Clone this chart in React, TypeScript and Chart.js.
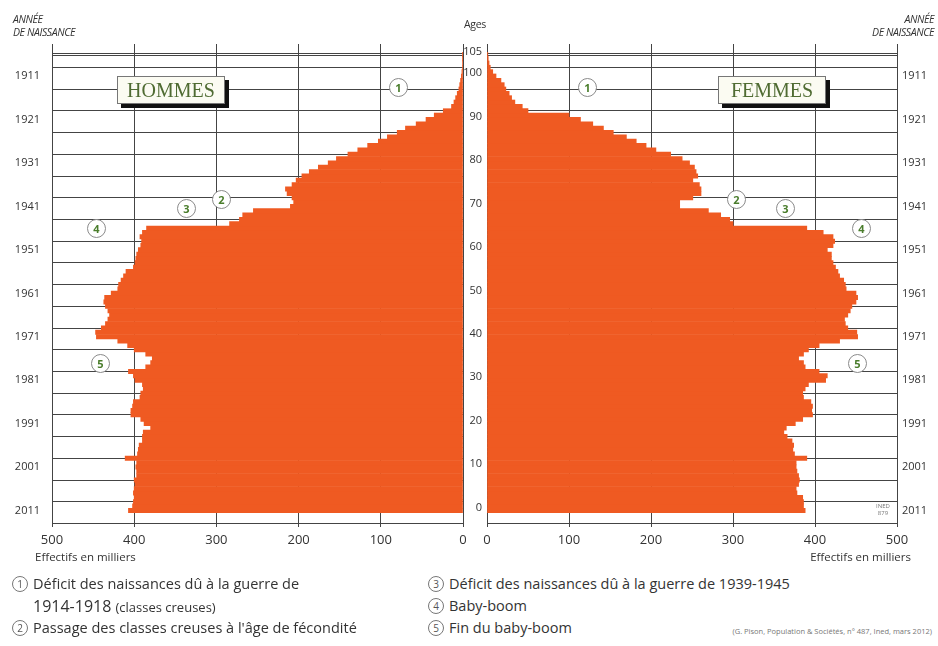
import React, { useEffect, useRef } from "react";
import { Chart, registerables } from "chart.js";

Chart.register(...registerables);

// Ages 0..105 (index = age in completed years, population on 1 Jan 2012)
const AGES: number[] = Array.from({ length: 106 }, (_, i) => i);

// Effectifs en milliers — hommes
const HOMMES: number[] = [
  407, 402, 401, 400, 401, 400, 399, 400, 397, 397, // 0-9
  398, 397, 411, 396, 395, 394, 390, 390, 389, 380, // 10-19
  388, 392, 404, 404, 402, 401, 393, 392, 389, 390, // 20-29
  399, 401, 407, 386, 380, 378, 386, 400, 408, 420, // 30-39
  446, 447, 440, 435, 432, 430, 432, 435, 437, 436, // 40-49
  428, 420, 419, 416, 413, 410, 401, 399, 398, 397, // 50-59
  395, 392, 391, 393, 390, 385, 284, 272, 268, 255, // 60-69
  210, 206, 208, 214, 216, 208, 203, 196, 187, 176, // 70-79
  164, 154, 140, 128, 116, 103, 92, 80, 70, 57,     // 80-89
  45, 35, 24, 14, 11, 9, 7, 5, 4, 3,                // 90-99
  2, 1.3, 0.8, 0.5, 0.3, 0.2,                        // 100-105
];

// Effectifs en milliers — femmes
const FEMMES: number[] = [
  388, 386, 386, 385, 378, 377, 380, 381, 380, 378, // 0-9
  377, 377, 390, 375, 373, 374, 372, 366, 362, 365, // 10-19
  376, 385, 397, 396, 397, 395, 386, 385, 388, 392, // 20-29
  413, 415, 405, 388, 386, 380, 386, 392, 405, 430, // 30-39
  452, 451, 440, 437, 436, 440, 443, 445, 450, 452, // 40-49
  450, 438, 437, 435, 430, 428, 425, 422, 420, 420, // 50-59
  415, 422, 424, 422, 410, 390, 300, 296, 285, 270, // 60-69
  235, 235, 251, 261, 261, 259, 251, 257, 255, 253, // 70-79
  247, 238, 224, 206, 194, 182, 170, 154, 142, 129, // 80-89
  114, 100, 50, 43, 34, 30, 27, 23, 21, 17,         // 90-99
  11, 7, 4, 2.5, 1.5, 1,                             // 100-105
];

const VALUE_TICKS: number[] = [0, 100, 200, 300, 400, 500];
const AGE_GRID: number[] = [0, 5, 10, 15, 20, 25, 30, 35, 40, 45, 50, 55, 60, 65, 70, 75, 80, 85, 90, 95, 100, 105, 105.5];
const AGE_LABELS: number[] = [0, 10, 20, 30, 40, 50, 60, 70, 80, 90, 100, 105];
const YEAR_LABEL_AGES: number[] = [0, 10, 20, 30, 40, 50, 60, 70, 80, 90, 100];
const CENSUS_YEAR = 2011;

const ORANGE = "#EF5A22";
const GRID = "#444444";
const TEXT = "#333333";
const TICK_FONT = { family: "'Open Sans', 'DejaVu Sans', sans-serif", size: 11 };
const X_FONT = { family: "'Open Sans', 'DejaVu Sans', sans-serif", size: 13 };

const AGE_MIN = 0;
const AGE_MAX = 105.5;

function ageGridTicks(scale: any) {
  scale.ticks = AGE_GRID.map((v) => ({ value: v }));
}

function yearLabel(v: number): string {
  return YEAR_LABEL_AGES.includes(v) ? String(CENSUS_YEAR - v) : "";
}

function barData(values: number[]) {
  return AGES.map((a) => ({ x: values[a], y: a + 0.5 }));
}

function xScale(reverse: boolean) {
  return {
    type: "linear" as const,
    position: "bottom" as const,
    reverse,
    min: 0,
    max: 500,
    afterBuildTicks: (scale: any) => {
      scale.ticks = VALUE_TICKS.map((v) => ({ value: v }));
    },
    afterFit: (scale: any) => {
      scale.height = 37;
    },
    ticks: {
      color: TEXT,
      font: X_FONT,
      padding: 5,
      autoSkip: false,
      maxRotation: 0,
      callback: (v: any) => String(v),
    },
    grid: { color: GRID, lineWidth: 1, drawTicks: true, tickLength: 4, tickColor: GRID },
    border: { display: true, color: GRID, width: 1 },
  };
}

function datasetFor(label: string, values: number[]) {
  return {
    label,
    data: barData(values) as any,
    backgroundColor: ORANGE,
    borderWidth: 0,
    barThickness: "flex" as const,
    barPercentage: 1,
    categoryPercentage: 1,
  };
}

function LeftPyramid() {
  const ref = useRef<HTMLCanvasElement>(null);
  useEffect(() => {
    if (!ref.current) return;
    const chart = new Chart(ref.current, {
      type: "bar",
      data: { datasets: [datasetFor("Hommes", HOMMES)] },
      options: {
        indexAxis: "y",
        responsive: false,
        animation: false,
        layout: { padding: { top: 44, right: 7, left: 0, bottom: 0 } },
        plugins: { legend: { display: false }, tooltip: { enabled: false } },
        scales: {
          x: xScale(true),
          y: {
            type: "linear",
            position: "left",
            min: AGE_MIN,
            max: AGE_MAX,
            afterBuildTicks: ageGridTicks,
            afterFit: (scale: any) => {
              scale.width = 52;
            },
            ticks: {
              color: TEXT,
              font: TICK_FONT,
              padding: 12,
              autoSkip: false,
              labelOffset: -2,
              callback: (v: any) => yearLabel(Number(v)),
            },
            grid: { color: GRID, lineWidth: 1, drawTicks: false },
            border: { display: true, color: GRID, width: 1 },
          },
        },
      },
    });
    return () => chart.destroy();
  }, []);
  return <canvas ref={ref} width={470} height={560} style={{ position: "absolute", left: 0, top: 0 }} />;
}

function RightPyramid() {
  const ref = useRef<HTMLCanvasElement>(null);
  useEffect(() => {
    if (!ref.current) return;
    const chart = new Chart(ref.current, {
      type: "bar",
      data: { datasets: [datasetFor("Femmes", FEMMES)] },
      options: {
        indexAxis: "y",
        responsive: false,
        animation: false,
        layout: { padding: { top: 44, right: 0, left: 0, bottom: 0 } },
        plugins: { legend: { display: false }, tooltip: { enabled: false } },
        scales: {
          x: xScale(false),
          y: {
            type: "linear",
            position: "left",
            min: AGE_MIN,
            max: AGE_MAX,
            afterBuildTicks: ageGridTicks,
            afterFit: (scale: any) => {
              scale.width = 24;
            },
            ticks: {
              color: TEXT,
              font: TICK_FONT,
              padding: 5,
              autoSkip: false,
              labelOffset: -5,
              callback: (v: any) => (AGE_LABELS.includes(Number(v)) ? String(v) : ""),
            },
            grid: { color: GRID, lineWidth: 1, drawTicks: false },
            border: { display: true, color: GRID, width: 1 },
          },
          y2: {
            type: "linear",
            position: "right",
            min: AGE_MIN,
            max: AGE_MAX,
            afterBuildTicks: ageGridTicks,
            afterFit: (scale: any) => {
              scale.width = 41;
            },
            ticks: {
              color: TEXT,
              font: TICK_FONT,
              padding: 5,
              autoSkip: false,
              labelOffset: -2,
              callback: (v: any) => yearLabel(Number(v)),
            },
            grid: { display: false, drawTicks: false },
            border: { display: true, color: GRID, width: 1 },
          },
        },
      },
    });
    return () => chart.destroy();
  }, []);
  return <canvas ref={ref} width={475} height={560} style={{ position: "absolute", left: 463, top: 0 }} />;
}

const SANS = "'Open Sans', 'DejaVu Sans', sans-serif";

function Marker({ n, x, y }: { n: number; x: number; y: number }) {
  return (
    <div
      style={{
        position: "absolute",
        left: x - 10,
        top: y - 10,
        width: 17,
        height: 17,
        borderRadius: "50%",
        border: "1.5px solid #8a8a8a",
        background: "#fff",
        color: "#4a7d2c",
        fontFamily: SANS,
        fontWeight: 700,
        fontSize: 11,
        lineHeight: "17px",
        textAlign: "center",
      }}
    >
      {n}
    </div>
  );
}

function SexBox({ label, x }: { label: string; x: number }) {
  return (
    <div
      style={{
        position: "absolute",
        left: x,
        top: 76,
        width: 106,
        height: 26,
        border: "1px solid #777",
        background: "#fbfbf2",
        boxShadow: "4px 4px 0 #111",
        color: "#4f6b32",
        fontFamily: "'Liberation Serif', 'DejaVu Serif', serif",
        fontSize: 20,
        lineHeight: "26px",
        textAlign: "center",
      }}
    >
      {label}
    </div>
  );
}

function LegendCircle({ n }: { n: number }) {
  return (
    <span
      style={{
        display: "inline-block",
        width: 14,
        height: 14,
        borderRadius: "50%",
        border: "1px solid #777",
        color: "#555",
        fontSize: 10,
        lineHeight: "14px",
        textAlign: "center",
        marginRight: 5,
        verticalAlign: "1px",
      }}
    >
      {n}
    </span>
  );
}

const headerStyle: React.CSSProperties = {
  position: "absolute",
  fontFamily: SANS,
  fontStyle: "italic",
  fontSize: 10.5,
  lineHeight: "13px",
  color: "#333",
  letterSpacing: -0.4,
};

const legendStyle: React.CSSProperties = {
  position: "absolute",
  fontFamily: SANS,
  fontSize: 14.5,
  color: "#333",
  whiteSpace: "nowrap",
  lineHeight: "20px",
};

export default function App() {
  return (
    <div
      style={{
        position: "absolute",
        left: 0,
        top: 0,
        width: 938,
        height: 646,
        background: "#fff",
        overflow: "hidden",
      }}
    >
      <LeftPyramid />
      <RightPyramid />

      <div style={{ ...headerStyle, left: 13, top: 13 }}>
        ANNÉE
        <br />
        DE NAISSANCE
      </div>
      <div style={{ ...headerStyle, right: 4, top: 13, textAlign: "right" }}>
        ANNÉE
        <br />
        DE NAISSANCE
      </div>
      <div
        style={{
          position: "absolute",
          left: 463,
          top: 17,
          width: 24,
          textAlign: "center",
          fontFamily: SANS,
          fontSize: 10.5,
          color: "#333",
          letterSpacing: -0.3,
        }}
      >
        Ages
      </div>

      <SexBox label="HOMMES" x={117} />
      <SexBox label="FEMMES" x={718} />

      <Marker n={1} x={399} y={88} />
      <Marker n={2} x={222} y={200} />
      <Marker n={3} x={187} y={209} />
      <Marker n={4} x={97} y={229} />
      <Marker n={5} x={101} y={364} />
      <Marker n={1} x={588} y={88} />
      <Marker n={2} x={737} y={200} />
      <Marker n={3} x={786} y={209} />
      <Marker n={4} x={862} y={229} />
      <Marker n={5} x={858} y={364} />

      <div
        style={{
          position: "absolute",
          left: 876,
          top: 503,
          fontFamily: SANS,
          fontSize: 6,
          lineHeight: "7px",
          color: "#777",
          textAlign: "center",
        }}
      >
        INED
        <br />
        879
      </div>

      <div style={{ position: "absolute", left: 35, top: 549, fontFamily: SANS, fontSize: 11.5, color: "#333" }}>
        Effectifs en milliers
      </div>
      <div style={{ position: "absolute", right: 27, top: 549, fontFamily: SANS, fontSize: 11.5, color: "#333" }}>
        Effectifs en milliers
      </div>

      <div style={{ ...legendStyle, left: 12, top: 574 }}>
        <LegendCircle n={1} />
        Déficit des naissances dû à la guerre de
      </div>
      <div style={{ ...legendStyle, left: 33, top: 596, fontSize: 16 }}>
        1914-1918 <span style={{ fontSize: 13 }}>(classes creuses)</span>
      </div>
      <div style={{ ...legendStyle, left: 12, top: 618 }}>
        <LegendCircle n={2} />
        Passage des classes creuses à l'âge de fécondité
      </div>
      <div style={{ ...legendStyle, left: 428, top: 574 }}>
        <LegendCircle n={3} />
        Déficit des naissances dû à la guerre de 1939-1945
      </div>
      <div style={{ ...legendStyle, left: 428, top: 596 }}>
        <LegendCircle n={4} />
        Baby-boom
      </div>
      <div style={{ ...legendStyle, left: 428, top: 618 }}>
        <LegendCircle n={5} />
        Fin du baby-boom
      </div>
      <div
        style={{
          position: "absolute",
          right: 6,
          top: 626,
          fontFamily: SANS,
          fontSize: 7.5,
          color: "#777",
          whiteSpace: "nowrap",
        }}
      >
        (G. Pison, Population &amp; Sociétés, n° 487, Ined, mars 2012)
      </div>
    </div>
  );
}
